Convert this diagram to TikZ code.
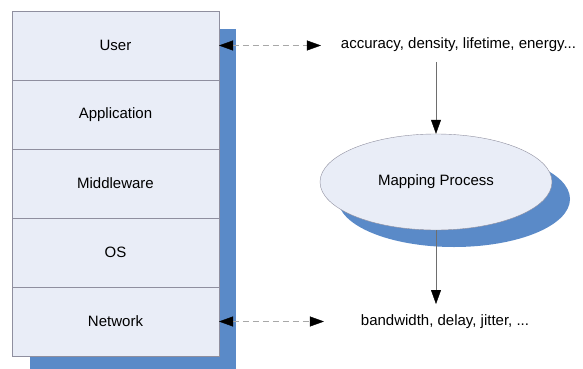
\documentclass[tikz,border=0pt]{standalone}
\usepackage{fontspec}
\setmainfont{Liberation Sans}
\usetikzlibrary{arrows.meta,shapes.geometric}
\definecolor{layerfill}{HTML}{E9EDF7}
\definecolor{edgegray}{HTML}{8F8F9F}
\definecolor{shadowblue}{HTML}{5A8AC8}
\definecolor{dashgray}{HTML}{A8A8A8}
\definecolor{linegray}{HTML}{6E6E6E}
\begin{document}
\begin{tikzpicture}[x=1pt,y=-1pt,
  font=\fontsize{15}{18}\selectfont,
  layer/.style={draw=edgegray, fill=layerfill, minimum width=207pt,
    minimum height=69pt, inner sep=0pt, outer sep=0pt},
  reqtext/.style={inner sep=0pt, outer sep=0pt},
  head/.tip={Triangle[length=14pt,width=10pt,color=black]},
  link/.style={draw=dashgray, dash pattern=on 6pt off 4pt, head-head},
  flow/.style={draw=linegray, -head}]
\useasboundingbox (0,0) rectangle (583,369);
% shadow behind the layer stack
\fill[shadowblue] (30,29) rectangle (236,369);
% layer stack
\node[layer] (user) at (115.5,45.5)  {User};
\node[layer] (app)  at (115.5,114.5) {Application};
\node[layer] (mid)  at (115.5,183.5) {Middleware};
\node[layer] (os)   at (115.5,252.5) {OS};
\node[layer] (net)  at (115.5,321.5) {Network};
% requirement labels
\node[reqtext] (acc) at (458.5,45) {accuracy, density, lifetime, energy...};
\node[reqtext] (bw)  at (445,322)  {bandwidth, delay, jitter, ...};
% mapping process with its shadow
\fill[shadowblue] (454,199) ellipse [x radius=116pt, y radius=48pt];
\node[ellipse, draw=edgegray, fill=layerfill, minimum width=232pt,
  minimum height=96pt, inner sep=0pt] (map) at (436,182) {Mapping Process};
% connectors
\draw[link, shorten >=20pt] (user.east) -- (user.east -| acc.west);
\draw[link, shorten >=37pt] (net.east) -- (net.east -| bw.west);
\draw[flow, shorten <=10pt] (acc.south -| map.north) -- (map.north);
\draw[flow, shorten >=11pt] (map.south) -- (map.south |- bw.north);
\end{tikzpicture}
\end{document}
